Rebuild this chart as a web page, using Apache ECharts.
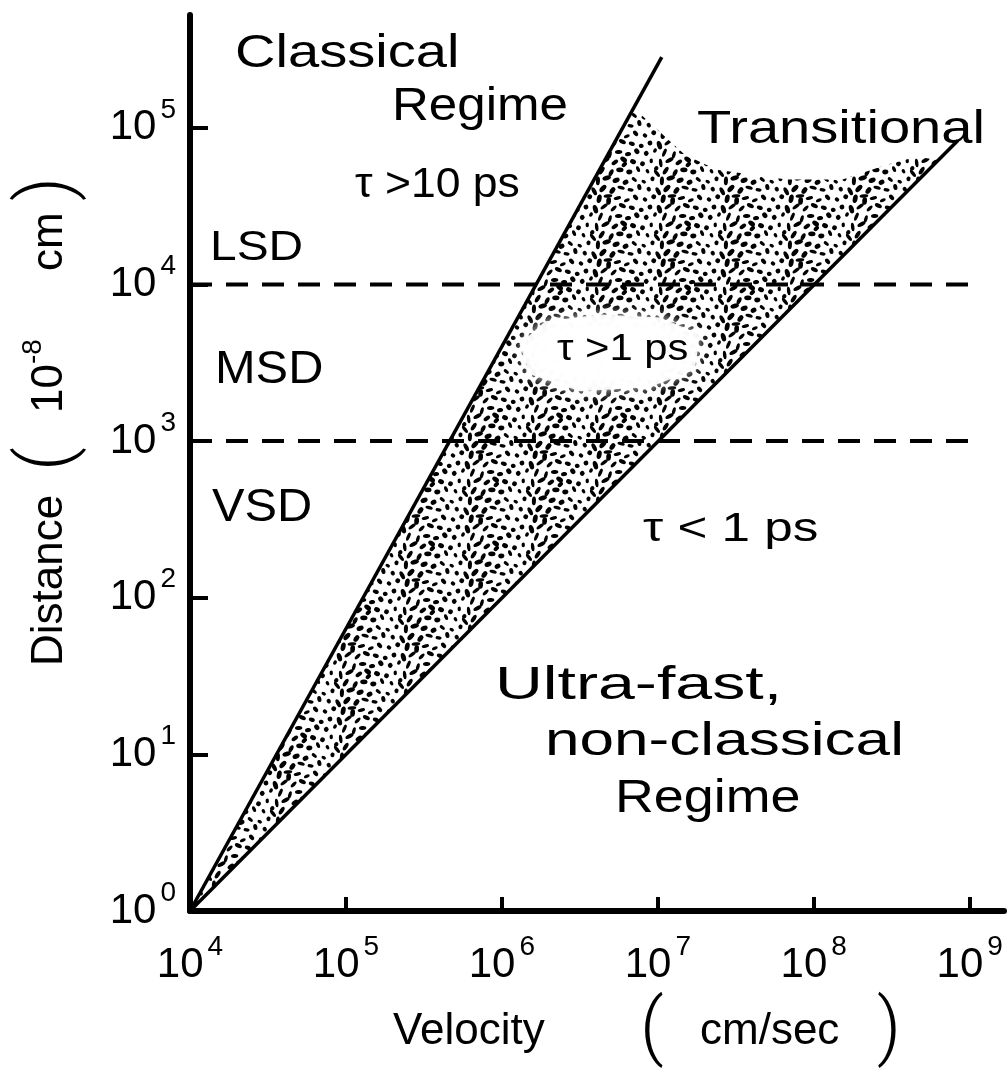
<!DOCTYPE html>
<html>
<head>
<meta charset="utf-8">
<script src="https://cdn.jsdelivr.net/npm/echarts@6/dist/echarts.min.js"></script>
<style>
html,body{margin:0;padding:0;background:#fff;}
#chart{width:1008px;height:1074px;}
</style>
</head>
<body>
<div id="chart"></div>
<script>
// ---------- data (velocity in cm/sec, distance in 1e-8 cm) ----------
const velocityTicks = [1e4, 1e5, 1e6, 1e7, 1e8, 1e9];
const distanceTicks = [1, 10, 100, 1e3, 1e4, 1e5];
const velocityRange = [1e4, 1.66e9];
const distanceRange = [1, 5.25e5];

// boundary of the classical regime (upper line)
const classicalBoundary = [[1e4, 1], [1.06e7, 2.83e5]];
// tau = 1 ps line (lower line)
const onePsBoundary = [[1e4, 1], [8.4e8, 8.3e4]];
// LSD / MSD / VSD separators
const lsdLevel = [[1e4, 1e4], [1e9, 1e4]];
const vsdLevel = [[1e4, 1e3], [1e9, 1e3]];
// stippled transitional region (outline)
const transitionalRegion = [
  [1e4, 1], [7.01e6, 1.34e5], [1.49e7, 6.73e4], [2.39e7, 5.4e4],
  [6.71e7, 4.67e4], [1.53e8, 4.67e4], [2.94e8, 5.81e4], [4.57e8, 6.54e4],
  [6.3e8, 6.24e4]
];
// sparse (almost empty) patch around the "tau > 1 ps" label
const sparsePatch = [
  [1.30e6, 4150], [1.89e6, 5810], [4.25e6, 6440], [1.03e7, 6160],
  [1.86e7, 4800], [1.73e7, 2870], [8.89e6, 2210], [3.16e6, 2080], [1.51e6, 2670]
];

// ---------- styling ----------
const FONT = '"Liberation Sans", Arial, Helvetica, sans-serif';
const PAREN_FONT = 'Roboto, "Liberation Sans", sans-serif';

function makeStipple() {
  const S = 64;
  const c = document.createElement('canvas');
  c.width = S; c.height = S;
  const g = c.getContext('2d');
  g.fillStyle = '#000';
  for (let n = 1; n <= 52; n++) {
    const x = ((n * 0.7548776662) % 1) * S;
    const y = ((n * 0.5698402910) % 1) * S;
    const a = (n * 2.39996) % Math.PI;
    const rx = 2.4 + (n % 4) * 0.65;
    const ry = 1.7 + (n % 3) * 0.35;
    for (let dx = -S; dx <= S; dx += S) {
      for (let dy = -S; dy <= S; dy += S) {
        g.beginPath();
        g.ellipse(x + dx, y + dy, rx, ry, a, 0, Math.PI * 2);
        g.fill();
      }
    }
  }
  return c;
}
const stipple = makeStipple();

function powLabel(v) {
  const e = Math.round(Math.log10(v));
  return '{b|10}{s|' + e + '}';
}
const tickRich = {
  b: { fontFamily: FONT, fontSize: 42, verticalAlign: 'middle', color: '#000' },
  s: { fontFamily: FONT, fontSize: 28, verticalAlign: 'middle', padding: [0, 0, 36, 4], color: '#000' }
};

function polygonSeries(points, style, z) {
  return {
    type: 'custom',
    coordinateSystem: 'cartesian2d',
    data: points,
    silent: true,
    z: z,
    renderItem: function (params, api) {
      if (params.dataIndex !== 0) return;
      const pts = points.map(function (p) { return api.coord(p); });
      return { type: 'polygon', shape: { points: pts }, style: style };
    }
  };
}

function label(text, x, y, size, sx) {
  return {
    type: 'text', x: x, y: y, scaleX: sx, z: 100, silent: true,
    style: { text: text, fontFamily: FONT, fontSize: size, fill: '#000', align: 'left', verticalAlign: 'middle' }
  };
}

const chart = echarts.init(document.getElementById('chart'), null, { renderer: 'canvas', width: 1008, height: 1074 });

chart.setOption({
  animation: false,
  backgroundColor: '#fff',
  grid: { left: 190, right: 4, top: 15, bottom: 161, containLabel: false },
  xAxis: {
    type: 'log', logBase: 10, min: velocityRange[0], max: velocityRange[1],
    axisLine: { show: true, onZero: false, lineStyle: { color: '#000', width: 6 } },
    axisTick: { show: true, inside: true, length: 14, customValues: velocityTicks, lineStyle: { color: '#000', width: 4 } },
    axisLabel: { customValues: velocityTicks, interval: 0, margin: 22, formatter: powLabel, rich: tickRich },
    splitLine: { show: false }, minorTick: { show: false }, minorSplitLine: { show: false },
    name: '{a|Velocity}{p|(}{c|cm/sec}{q|)}',
    nameLocation: 'middle', nameGap: 84,
    nameTextStyle: {
      padding: [0, 0, 0, 101],
      rich: {
        a: { fontFamily: FONT, fontSize: 44, width: 247, align: 'left', color: '#000' },
        p: { fontFamily: PAREN_FONT, fontWeight: 300, fontSize: 74, width: 60, align: 'left', color: '#000' },
        c: { fontFamily: FONT, fontSize: 44, width: 177, align: 'left', color: '#000' },
        q: { fontFamily: PAREN_FONT, fontWeight: 300, fontSize: 74, width: 25, align: 'left', color: '#000' }
      }
    }
  },
  yAxis: {
    type: 'log', logBase: 10, min: distanceRange[0], max: distanceRange[1],
    axisLine: { show: true, onZero: false, lineStyle: { color: '#000', width: 6 } },
    axisTick: { show: true, inside: true, length: 18, customValues: distanceTicks, lineStyle: { color: '#000', width: 4 } },
    axisLabel: { customValues: distanceTicks, interval: 0, margin: 14, formatter: powLabel, rich: tickRich },
    splitLine: { show: false }, minorTick: { show: false }, minorSplitLine: { show: false },
    name: '{a|Distance}{p|(}{b|10}{s|-8}{c|cm}{q|)}',
    nameLocation: 'middle', nameGap: 103, nameRotate: 90,
    nameTextStyle: {
      padding: [0, 0, 0, 84],
      rich: {
        a: { fontFamily: FONT, fontSize: 44, width: 195, align: 'left', color: '#000' },
        p: { fontFamily: PAREN_FONT, fontWeight: 300, fontSize: 74, width: 58, align: 'left', color: '#000' },
        b: { fontFamily: FONT, fontSize: 44, width: 49, align: 'left', color: '#000' },
        s: { fontFamily: FONT, fontSize: 28, width: 93, align: 'left', padding: [0, 0, 34, 0], color: '#000' },
        c: { fontFamily: FONT, fontSize: 44, width: 70, align: 'left', color: '#000' },
        q: { fontFamily: PAREN_FONT, fontWeight: 300, fontSize: 74, width: 25, align: 'left', color: '#000' }
      }
    }
  },
  series: [
    polygonSeries(transitionalRegion, { fill: { image: stipple, repeat: 'repeat' } }, 1),
    polygonSeries(sparsePatch, { fill: 'rgba(255,255,255,0.93)', shadowBlur: 14, shadowColor: 'rgba(255,255,255,1)' }, 2),
    { type: 'line', data: lsdLevel, symbol: 'none', silent: true, z: 3, lineStyle: { color: '#000', width: 4, type: [22, 14] } },
    { type: 'line', data: vsdLevel, symbol: 'none', silent: true, z: 3, lineStyle: { color: '#000', width: 4, type: [22, 14] } },
    { type: 'line', data: classicalBoundary, symbol: 'none', silent: true, z: 4, lineStyle: { color: '#000', width: 3.5 } },
    { type: 'line', data: onePsBoundary, symbol: 'none', silent: true, z: 4, lineStyle: { color: '#000', width: 3.5 } }
  ],
  graphic: { elements: [
    label('Classical', 235, 54, 46, 1.22),
    label('Regime', 392, 107, 46, 1.11),
    label('τ >10 ps', 355, 185, 42, 1.06),
    label('LSD', 210, 248, 42, 1.14),
    label('MSD', 215, 370, 46, 1.06),
    label('VSD', 212, 508, 46, 1.06),
    label('Transitional', 697, 130, 46, 1.22),
    label('τ >1 ps', 557, 350, 36, 1.16),
    label('τ < 1 ps', 643, 530, 40, 1.28),
    label('Ultra-fast,', 495, 686, 46, 1.44),
    label('non-classical', 545, 742, 46, 1.35),
    label('Regime', 615, 799, 46, 1.17)
  ] }
});
</script>
</body>
</html>
